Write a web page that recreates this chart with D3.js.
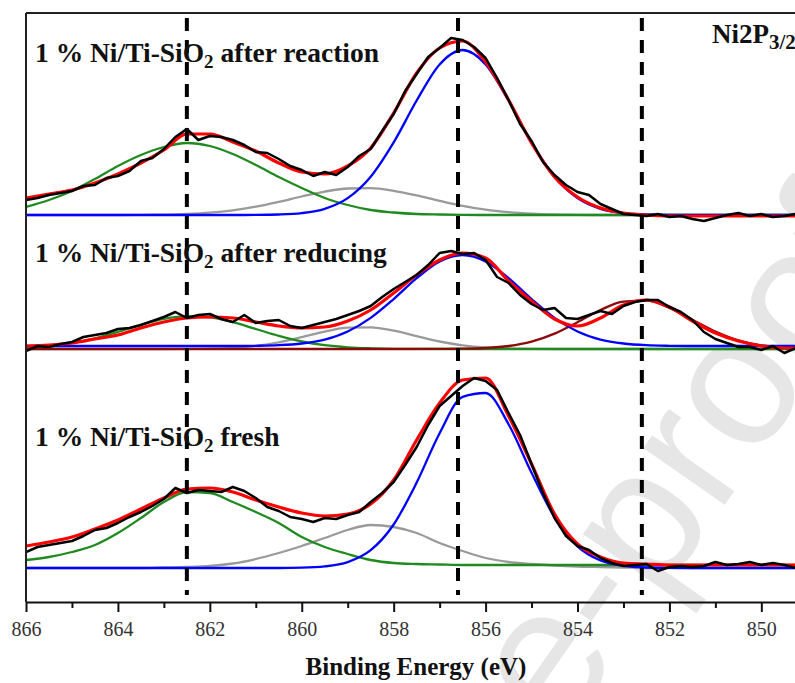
<!DOCTYPE html>
<html>
<head>
<meta charset="utf-8">
<script src="https://cdn.jsdelivr.net/npm/d3@7"></script>
<style>
body { margin: 0; background: #fff; }
svg { display: block; }
</style>
</head>
<body>
<svg id="chart" width="795" height="683"></svg>
<script>
// binding energy grids (eV): fitted curves every 0.5 eV, raw spectrum every 0.25 eV
const energyFit = [866, 865.5, 865, 864.5, 864, 863.5, 863, 862.5, 862, 861.5, 861, 860.5, 860, 859.5, 859, 858.5, 858, 857.5, 857, 856.5,
    856, 855.5, 855, 854.5, 854, 853.5, 853, 852.5, 852, 851.5, 851, 850.5, 850, 849.5, 849];
const energyRaw = [866, 865.75, 865.5, 865.25, 865, 864.75, 864.5, 864.25, 864, 863.75, 863.5, 863.25, 863, 862.75, 862.5, 862.25, 862, 861.75,
    861.5, 861.25, 861, 860.75, 860.5, 860.25, 860, 859.75, 859.5, 859.25, 859, 858.75, 858.5, 858.25, 858, 857.75, 857.5, 857.25, 857,
    856.75, 856.5, 856.25, 856, 855.75, 855.5, 855.25, 855, 854.75, 854.5, 854.25, 854, 853.75, 853.5, 853.25, 853, 852.75, 852.5, 852.25,
    852, 851.75, 851.5, 851.25, 851, 850.75, 850.5, 850.25, 850, 849.75, 849.5, 849.25];

// 1 % Ni/Ti-SiO2 after reaction (intensity, a.u.)
const reactGreen = [8, 15, 24, 36, 49, 60, 68, 72, 69, 61, 50, 38, 27, 17, 10, 5, 2.5, 1, 0.5, 0.2, 0, 0, 0, 0, 0, 0, 0, 0, 0, 0, 0, 0, 0, 0, 0];
const reactGray = [0, 0, 0, 0, 0, 0.2, 0.4, 1.1, 2.4, 4.7, 8.3, 13.1, 18.5, 23.4, 26.5, 26.8, 24.2, 19.6, 14.2, 9.2, 5.3, 2.8, 1.3, 0.5, 0.2,
    0, 0, 0, 0, 0, 0, 0, 0, 0, 0];
const reactBlue = [0, 0, 0, 0, 0, 0, 0, 0, 0, 0, 0.1, 0.5, 1.9, 6.2, 16.9, 38.3, 72.6, 114.5, 150.6, 165, 150.6, 114.5, 72.6, 38.3, 16.9,
    6.2, 1.9, 0.5, 0.1, 0, 0, 0, 0, 0, 0];
const reactFit = [17, 21, 25, 32, 41, 52, 65, 81, 81, 73, 64, 52, 43, 41, 49, 67, 102, 142, 167, 174, 153, 115, 72, 38, 18, 7, 2, 0, -1, -1,
    -1, -1, -1, -1, -1];
const reactRaw = [15, 17, 20, 22, 24, 29, 30, 37, 39, 44, 54, 57, 66, 78, 86, 75, 79, 78, 75, 70, 63, 62, 56, 49, 45, 39, 43, 40, 48, 59,
    66, 84, 101, 124, 141, 158, 167, 177, 175, 168, 157, 137, 115, 91, 74, 53, 40, 30, 23, 20, 11, 6, 1, 0, -1, 1, -2, -1, -4, -6,
    -3, 0, 2, -1, 1, -2, -1, 1];

// 1 % Ni/Ti-SiO2 after reducing
const reduceGreen = [1.2, 2.8, 5.8, 10.6, 17.1, 24.2, 30.1, 32.9, 31.7, 26.8, 20, 13.1, 7.5, 3.8, 1.7, 0.7, 0.2, 0.1, 0, 0, 0, 0, 0, 0, 0,
    0, 0, 0, 0, 0, 0, 0, 0, 0, 0];
const reduceGray = [0, 0, 0, 0, 0, 0, 0, 0.1, 0.4, 1.2, 3.1, 6.6, 11.8, 17.4, 21.3, 21.7, 18.4, 12.9, 7.5, 3.7, 1.5, 0.5, 0.1, 0, 0, 0, 0,
    0, 0, 0, 0, 0, 0, 0, 0];
const reduceBlue = [3, 3, 3, 3, 3, 3, 3, 3, 3, 3, 3.2, 3.8, 5.5, 9.4, 17.5, 31.1, 49.9, 70.8, 87.6, 94, 87.6, 70.8, 49.9, 31.1, 17.5, 9.4,
    5.5, 3.8, 3.2, 3, 3, 3, 3, 3, 3];
const reduceNi = [0, 0, 0, 0, 0, 0, 0, 0, 0, 0, 0, 0, 0, 0, 0, 0, 0, 0, 0.1, 0.3, 1, 3, 7.4, 15.4, 26.8, 39, 47.4, 48.3, 41.1, 29.3, 17.5,
    8.7, 3.6, 1.3, 0.4];
const reduceFit = [3, 4, 6, 10, 14, 21, 27, 31, 32, 31, 27, 23, 21, 22, 28, 39, 56, 74, 89, 96, 91, 68, 48, 30, 23, 31, 44, 49, 42, 28,
    16, 8, 3, 1, 1];
const reduceRaw = [-2, 3, 2, 5, 7, 12, 14, 16, 20, 21, 24, 28, 32, 37, 31, 34, 35, 30, 27, 34, 26, 28, 29, 23, 21, 24, 27, 30, 34, 38,
    43, 52, 60, 67, 74, 84, 96, 98, 95, 96, 89, 72, 66, 54, 45, 39, 41, 31, 30, 34, 38, 35, 43, 47, 49, 49, 42, 37, 29, 17,
    10, 6, 2, 2, -1, 3, -4, 1];

// 1 % Ni/Ti-SiO2 fresh
const freshGreen = [8, 11, 16, 23, 35, 50, 66, 76, 75, 66, 56, 45, 31, 21, 14, 8, 5, 4, 3.5, 3, 3, 3, 3, 3, 3, 3, 3, 3, 3, 3, 3, 3, 3, 3, 3];
const freshGray = [0, 0, 0, 0, 0, 0, 0.5, 1, 2, 4.5, 9, 15, 22, 30, 38, 43, 41, 35, 25, 17, 10, 6, 4, 2.5, 1.5, 1, 0.5, 0, 0, 0, 0, 0, 0,
    0, 0];
const freshBlue = [0, 0, 0, 0, 0, 0, 0, 0, 0, 0, 0, 0, 0.3, 1.6, 5.9, 17.8, 43.5, 85.4, 134.8, 171.2, 175, 143.8, 95.2, 50.7, 21.7, 7.5,
    2.1, 0.5, 0.1, 0, 0, 0, 0, 0, 0];
const freshFit = [22, 26, 31, 39, 48, 59, 70, 79, 80, 76, 68, 61, 55, 52, 54, 64, 88, 128, 165, 188, 190, 152, 104, 54, 24, 11, 5, 4, 3,
    3, 3, 3, 3, 3, 3];
const freshRaw = [16, 21, 23, 25, 27, 32, 38, 40, 45, 51, 56, 62, 69, 80, 75, 78, 77, 76, 81, 77, 70, 61, 57, 51, 49, 46, 50, 49, 53, 56,
    66, 75, 86, 103, 121, 143, 162, 172, 182, 190, 187, 178, 155, 133, 104, 75, 50, 32, 22, 18, 10, 5, 2, 3, 4, -3, 1, 2, 1, 2,
    6, 3, 4, 6, 3, 5, 3, 0];

const refLines = [862.5, 856.6, 852.6];
const majorTicks = [866, 864, 862, 860, 858, 856, 854, 852, 850];
const minorTicks = [865, 863, 861, 859, 857, 855, 853, 851];

const W = 795, H = 683;
const m = {left: 26, top: 13, right: 795, bottom: 602};
const col = {green: '#1f8a1f', gray: '#9a9a9a', blue: '#0000ff', ni: '#8b0a0a', fit: '#ff0000', raw: '#000'};
const serif = 'Liberation Serif, Times New Roman, serif';

const svg = d3.select('#chart');
const x = d3.scaleLinear().domain([866, 849]).range([26, 807.3]);

svg.append('defs').append('clipPath').attr('id', 'plotclip')
    .append('rect')
    .attr('x', m.left).attr('y', m.top)
    .attr('width', m.right - m.left).attr('height', m.bottom - m.top);

// faint "Journal Pre-proof" stamp behind the chart
svg.append('text')
    .attr('transform', 'translate(70,1440) rotate(-55)')
    .attr('font-family', 'Liberation Sans, Arial, sans-serif')
    .attr('font-size', 188)
    .attr('fill', '#e6e6e6')
    .text('Journal Pre-proof');

let panels = [
    {name: 'after reaction', base: 215, labelY: 62,
        comps: [[reactGray, col.gray], [reactGreen, col.green], [reactBlue, col.blue]], fit: reactFit, raw: reactRaw},
    {name: 'after reducing', base: 349, labelY: 262,
        comps: [[reduceGray, col.gray], [reduceGreen, col.green], [reduceNi, col.ni], [reduceBlue, col.blue]], fit: reduceFit, raw: reduceRaw},
    {name: 'fresh', base: 568, labelY: 446,
        comps: [[freshGray, col.gray], [freshGreen, col.green], [freshBlue, col.blue]], fit: freshFit, raw: freshRaw}
];

let plot = svg.append('g').attr('clip-path', 'url(#plotclip)');

panels.forEach(p => {
    let y = d3.scaleLinear().domain([0, 100]).range([p.base, p.base - 100]);

    let smooth = d3.line()
        .x((d, i) => x(energyFit[i]))
        .y(d => y(d))
        .curve(d3.curveMonotoneX);
    let jagged = d3.line()
        .x((d, i) => x(energyRaw[i]))
        .y(d => y(d));

    let g = plot.append('g').attr('class', 'panel');

    p.comps.forEach(c => {
        g.append('path')
            .attr('d', smooth(c[0]))
            .attr('fill', 'none')
            .attr('stroke', c[1])
            .attr('stroke-width', 2.3);
    });

    g.append('path')
        .attr('d', smooth(p.fit))
        .attr('fill', 'none')
        .attr('stroke', col.fit)
        .attr('stroke-width', 3.2);

    g.append('path')
        .attr('d', jagged(p.raw))
        .attr('fill', 'none')
        .attr('stroke', col.raw)
        .attr('stroke-width', 2.5)
        .attr('stroke-linejoin', 'round');

    let t = svg.append('text')
        .attr('x', 35)
        .attr('y', p.labelY)
        .attr('font-family', serif)
        .attr('font-weight', 'bold')
        .attr('font-size', 27.5)
        .attr('fill', '#111');
    t.append('tspan').text('1 % Ni/Ti-SiO');
    t.append('tspan').attr('font-size', 19).attr('dy', 6).text('2');
    t.append('tspan').attr('dy', -6).text(' ' + p.name);
});

// reference positions
plot.selectAll('.ref')
    .data(refLines)
    .enter()
    .append('line')
    .attr('class', 'ref')
    .attr('x1', d => x(d)).attr('x2', d => x(d))
    .attr('y1', 18).attr('y2', 595)
    .attr('stroke', '#000')
    .attr('stroke-width', 4)
    .attr('stroke-dasharray', '13,9');

let tag = svg.append('text')
    .attr('x', 712)
    .attr('y', 43)
    .attr('font-family', serif)
    .attr('font-weight', 'bold')
    .attr('font-size', 27)
    .attr('fill', '#111');
tag.append('tspan').text('Ni2P');
tag.append('tspan').attr('font-size', 21).attr('dy', 6).text('3/2');

// frame: top and left edges
svg.append('line')
    .attr('x1', m.left).attr('x2', W)
    .attr('y1', m.top).attr('y2', m.top)
    .attr('stroke', '#222').attr('stroke-width', 2);
svg.append('line')
    .attr('x1', m.left).attr('x2', m.left)
    .attr('y1', m.top).attr('y2', m.bottom)
    .attr('stroke', '#222').attr('stroke-width', 2);

// x axis
let ax = svg.append('g')
    .attr('transform', 'translate(0,' + m.bottom + ')')
    .call(d3.axisBottom(x).tickValues(majorTicks).tickSize(10).tickSizeOuter(0).tickFormat(d3.format('d')));
ax.select('.domain').attr('stroke', '#111').attr('stroke-width', 2);
ax.selectAll('.tick line').attr('stroke', '#111').attr('stroke-width', 2);
ax.selectAll('.tick text')
    .attr('y', 34).attr('dy', 0)
    .attr('font-family', serif)
    .attr('font-size', 20)
    .attr('fill', '#333');

let axMinor = svg.append('g')
    .attr('transform', 'translate(0,' + m.bottom + ')')
    .call(d3.axisBottom(x).tickValues(minorTicks).tickSize(6).tickSizeOuter(0).tickFormat(''));
axMinor.select('.domain').remove();
axMinor.selectAll('.tick line').attr('stroke', '#111').attr('stroke-width', 2);

svg.append('text')
    .attr('x', 416)
    .attr('y', 675)
    .attr('text-anchor', 'middle')
    .attr('font-family', serif)
    .attr('font-weight', 'bold')
    .attr('font-size', 25)
    .attr('fill', '#111')
    .text('Binding Energy (eV)');
</script>
</body>
</html>
